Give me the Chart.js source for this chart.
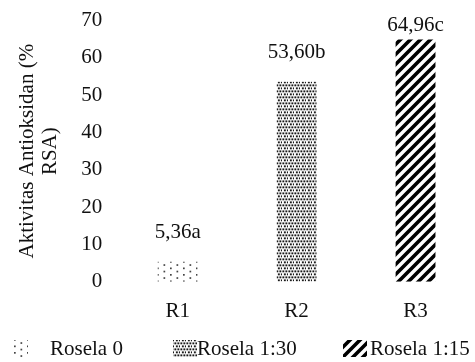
<!DOCTYPE html>
<html>
<head>
<meta charset="utf-8">
<script src="https://cdn.jsdelivr.net/npm/chart.js@4/dist/chart.umd.min.js"></script>
<style>
  html, body { margin: 0; padding: 0; background: #fff; }
  #wrap { width: 475px; height: 362px; }
</style>
</head>
<body>
<div id="wrap"><canvas id="c" width="475" height="362"></canvas></div>
<script>
// Treatments, measured antioxidant activity and significance letters
const categories = ['R1', 'R2', 'R3'];
const seriesNames = ['Rosela 0', 'Rosela 1:30', 'Rosela 1:15'];
const values = [5.36, 53.60, 64.96];
const letters = ['a', 'b', 'c'];
const yTicks = [0, 10, 20, 30, 40, 50, 60, 70];

const FONT = "'Liberation Serif', 'Times New Roman', serif";
const FS = 21;

// ---- fill patterns ----
function tile(w, h, draw) {
  const c = document.createElement('canvas');
  c.width = w; c.height = h;
  const g = c.getContext('2d');
  draw(g, w, h);
  return document.createElement('canvas').getContext('2d').createPattern(c, 'repeat');
}
// sparse dots
const sparseDots = tile(13, 13, (g) => {
  g.fillStyle = '#444';
  [[1, 1], [1, 7.5], [7.5, 4.2], [7.5, 10.7]].forEach(([x, y]) => g.fillRect(x, y, 1.7, 1.7));
});
// dense dots
const denseDots = tile(6, 6, (g) => {
  g.fillStyle = '#1a1a1a';
  [[0.4, 0.4], [3.4, 0.4], [1.9, 3.4], [4.9, 3.4]].forEach(([x, y]) => g.fillRect(x, y, 1.9, 1.9));
});
// thick diagonal hatch
const hatch = tile(10, 10, (g, s) => {
  g.strokeStyle = '#000';
  g.lineWidth = 3.6;
  g.lineCap = 'square';
  g.beginPath();
  g.moveTo(-2, s + 2); g.lineTo(s + 2, -2);
  g.moveTo(-2, 2); g.lineTo(2, -2);
  g.moveTo(s - 2, s + 2); g.lineTo(s + 2, s - 2);
  g.stroke();
});
const patterns = [sparseDots, denseDots, hatch];

function fmt(v, letter) {
  return v.toFixed(2).replace('.', ',') + letter;
}

// value labels above bars
const valueLabels = {
  id: 'valueLabels',
  afterDatasetsDraw(chart) {
    const ctx = chart.ctx;
    const meta = chart.getDatasetMeta(0);
    ctx.save();
    ctx.font = FS + 'px ' + FONT;
    ctx.fillStyle = '#111';
    ctx.textAlign = 'center';
    ctx.textBaseline = 'middle';
    meta.data.forEach((bar, i) => {
      const y = Math.max(bar.y - 29, chart.chartArea.top + 5);
      ctx.fillText(fmt(values[i], letters[i]), bar.x, y);
    });
    ctx.restore();
  }
};

// pattern legend along the bottom
const patternLegend = {
  id: 'patternLegend',
  afterDraw(chart, args, opts) {
    const ctx = chart.ctx;
    ctx.save();
    ctx.font = FS + 'px ' + FONT;
    ctx.textBaseline = 'middle';
    ctx.textAlign = 'left';
    opts.items.forEach((it, i) => {
      ctx.fillStyle = patterns[i];
      ctx.fillRect(it.box, opts.y - 8, it.boxW, 17);
      ctx.fillStyle = '#111';
      ctx.fillText(seriesNames[i], it.text, opts.y + 1);
    });
    ctx.restore();
  }
};

new Chart(document.getElementById('c'), {
  type: 'bar',
  data: {
    labels: categories,
    datasets: [{
      label: 'Aktivitas Antioksidan',
      data: values,
      backgroundColor: patterns,
      borderWidth: 0,
      categoryPercentage: 1,
      barPercentage: 0.335
    }]
  },
  options: {
    responsive: false,
    animation: false,
    devicePixelRatio: 1,
    layout: { padding: { left: 16, right: 0, top: 17, bottom: 29 } },
    plugins: {
      legend: { display: false },
      tooltip: { enabled: false },
      patternLegend: {
        y: 348,
        items: [
          { box: 13, boxW: 15, text: 50 },
          { box: 173, boxW: 24, text: 197 },
          { box: 343, boxW: 24, text: 370 }
        ]
      }
    },
    scales: {
      x: {
        grid: { display: false },
        border: { display: false },
        ticks: { color: '#111', font: { family: FONT, size: FS }, padding: 9 }
      },
      y: {
        min: 0,
        max: 70,
        afterBuildTicks(scale) { scale.ticks = yTicks.map(v => ({ value: v })); },
        grid: { display: false },
        border: { display: false },
        ticks: { color: '#111', font: { family: FONT, size: FS }, padding: 8 },
        title: {
          display: true,
          text: ['Aktivitas Antioksidan (%', 'RSA)'],
          color: '#111',
          font: { family: FONT, size: FS, lineHeight: 1.1 },
          padding: { top: 0, bottom: 11 }
        }
      }
    }
  },
  plugins: [valueLabels, patternLegend]
});
</script>
</body>
</html>
